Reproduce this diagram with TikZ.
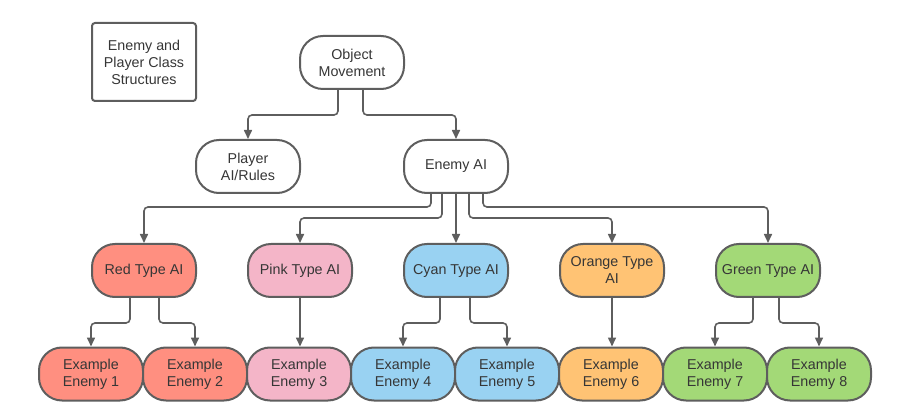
\documentclass[tikz,border=0pt]{standalone}
\usepackage{fontspec}
\setmainfont{Liberation Sans}
\usetikzlibrary{arrows.meta,positioning}
\definecolor{ink}{HTML}{5E5E5E}
\definecolor{txt}{HTML}{363636}
\definecolor{cred}{HTML}{FF8F80}
\definecolor{cpink}{HTML}{F4B5C8}
\definecolor{ccyan}{HTML}{99D2F2}
\definecolor{corange}{HTML}{FFC374}
\definecolor{cgreen}{HTML}{A3D977}
\tikzset{
  >={Triangle[length=9pt,width=8pt]},
  every picture/.style={font=\fontsize{14.3}{17}\selectfont},
  pill/.style={draw=ink,fill=white,line width=2pt,rounded corners=23pt,minimum width=104pt,minimum height=53pt,align=center,text=txt,inner sep=1pt},
  pred/.style={pill,fill=cred},
  ppink/.style={pill,fill=cpink},
  pcyan/.style={pill,fill=ccyan},
  porange/.style={pill,fill=corange},
  pgreen/.style={pill,fill=cgreen},
  titlebox/.style={draw=ink,line width=2pt,rounded corners=3pt,minimum width=104pt,minimum height=78pt,align=center,text=txt},
  conn/.style={->,draw=ink,line width=1.6pt,rounded corners=4pt},
}
\begin{document}
\begin{tikzpicture}[x=1pt,y=-1pt]
  \useasboundingbox (0,0) rectangle (904,419);
  \node[titlebox] (title) at (144,62) {Enemy and\\Player Class\\Structures};
  % top levels
  \node[pill] (om) at (352,62.5) {Object\\Movement};
  \node[pill] (player) at (248,166.5) {Player\\AI/Rules};
  \node[pill] (enemy) at (456,166.5) {Enemy AI};
  % ai types
  \node[pred] (red) at (144,270.5) {Red Type AI};
  \node[ppink] (pink) at (300,270.5) {Pink Type AI};
  \node[pcyan] (cyan) at (456,270.5) {Cyan Type AI};
  \node[porange] (orange) at (612,270.5) {Orange Type\\AI};
  \node[pgreen] (green) at (768,270.5) {Green Type AI};
  % examples
  \foreach \i/\s in {1/pred,2/pred,3/ppink,4/pcyan,5/pcyan,6/porange,7/pgreen,8/pgreen}
    \node[\s] (ex\i) at (91+104*\i-104,374) {Example\\Enemy \i};
  % connectors
  \draw[conn] ([xshift=-14pt]om.south) -- ++(0,25) -| (player);
  \draw[conn] ([xshift=11pt]om.south) -- ++(0,25) -| (enemy);
  \draw[conn] ([xshift=-25pt]enemy.south) -- ++(0,13) -| (red);
  \draw[conn] ([xshift=-14pt]enemy.south) -- ++(0,24) -| (pink);
  \draw[conn] (enemy) -- (cyan);
  \draw[conn] ([xshift=13pt]enemy.south) -- ++(0,24) -| (orange);
  \draw[conn] ([xshift=27pt]enemy.south) -- ++(0,13) -| (green);
  \draw[conn] ([xshift=-14pt]red.south) -- ++(0,25) -| (ex1);
  \draw[conn] ([xshift=15pt]red.south) -- ++(0,25) -| (ex2);
  \draw[conn] (pink.south) -- (pink.south |- ex3.north);
  \draw[conn] ([xshift=-16pt]cyan.south) -- ++(0,25) -| (ex4);
  \draw[conn] ([xshift=14pt]cyan.south) -- ++(0,25) -| (ex5);
  \draw[conn] (orange.south) -- (orange.south |- ex6.north);
  \draw[conn] ([xshift=-15pt]green.south) -- ++(0,25) -| (ex7);
  \draw[conn] ([xshift=11pt]green.south) -- ++(0,25) -| (ex8);
\end{tikzpicture}
\end{document}
